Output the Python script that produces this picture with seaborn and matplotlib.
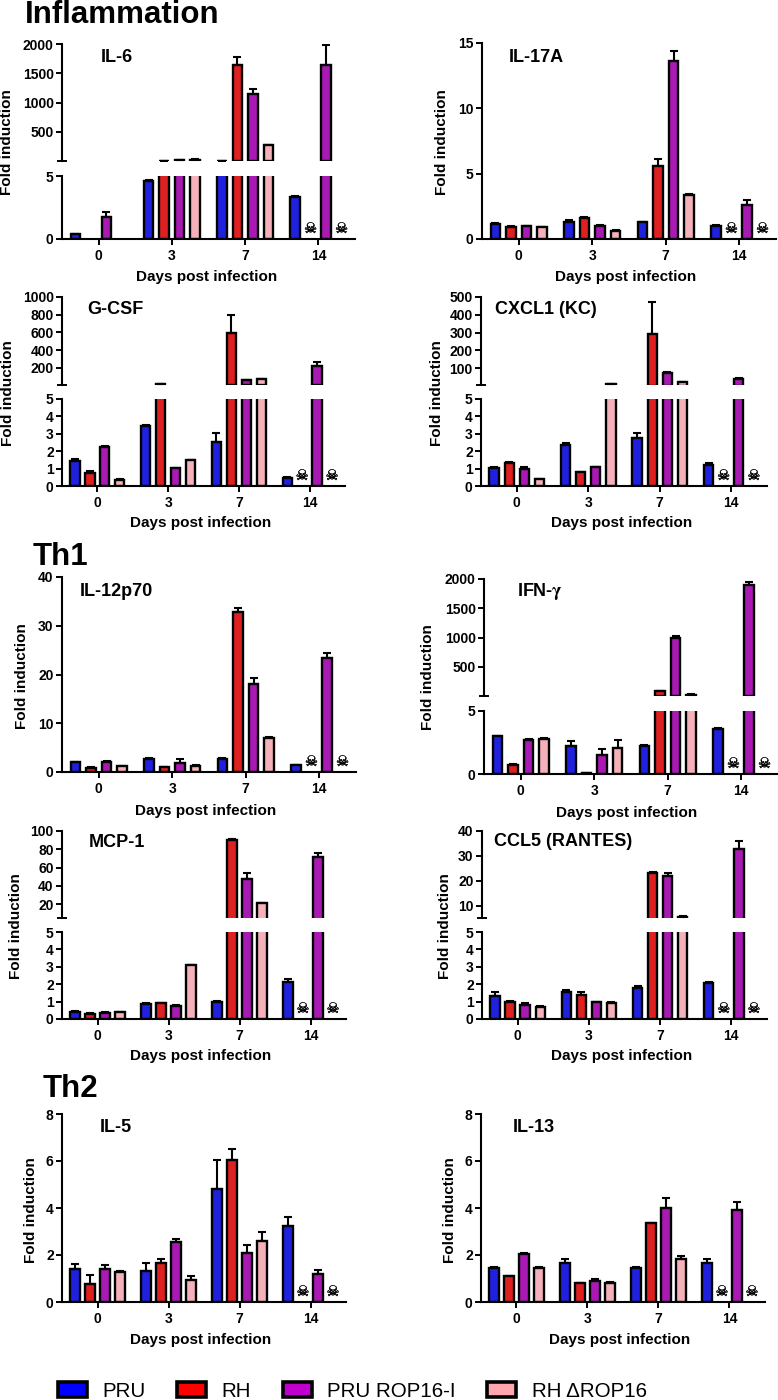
import numpy as np
import pandas as pd
import matplotlib
matplotlib.use("Agg")
import matplotlib.pyplot as plt
import matplotlib.patheffects as pe
from matplotlib.patches import Patch
import seaborn as sns

days = ["0", "3", "7", "14"]
strains = ["PRU", "RH", "PRU ROP16-I", "RH \u0394ROP16"]
colors = ["#0000FF", "#FF0000", "#BF00CC", "#FFA6B0"]

# each row is one day, columns follow strains. 0 in day 14 RH / RH dROP16 = dead mice
il6 = [[0.37, 0, 1.72, 0], [4.6, 12, 20, 30], [12, 1650, 1145, 280], [3.3, 0, 1650, 0]]
il6_err = [[0.03, 0, 0.4, 0], [0.1, 1, 1, 1], [1, 120, 80, 5], [0.12, 0, 340, 0]]

il17 = [[1.15, 0.95, 0.97, 0.9], [1.33, 1.63, 1.02, 0.64], [1.3, 5.6, 13.65, 3.35], [1.02, 0, 2.63, 0]]
il17_err = [[0.04, 0.02, 0.03, 0.02], [0.12, 0.03, 0.03, 0.02], [0.01, 0.55, 0.73, 0.1], [0.03, 0, 0.32, 0]]

gcsf = [[1.46, 0.77, 2.26, 0.36], [3.47, 12, 1.02, 1.47], [2.55, 595, 58, 73], [0.48, 0, 217, 0]]
gcsf_err = [[0.08, 0.08, 0.06, 0.03], [0.02, 2, 0.04, 0.04], [0.48, 205, 3, 4], [0.05, 0, 50, 0]]

cxcl1 = [[1.03, 1.3, 1.0, 0.38], [2.38, 0.8, 1.11, 8], [2.74, 290, 72, 20], [1.2, 0, 41, 0]]
cxcl1_err = [[0.05, 0.08, 0.08, 0.02], [0.08, 0.03, 0.01, 1], [0.3, 180, 6, 3], [0.13, 0, 2, 0]]

il12 = [[2.0, 0.9, 2.1, 1.15], [2.75, 0.95, 1.8, 1.3], [2.7, 32.8, 18.1, 7.05], [1.35, 0, 23.4, 0]]
il12_err = [[0.1, 0.05, 0.1, 0.03], [0.12, 0.05, 0.8, 0.1], [0.15, 0.9, 1.1, 0.03], [0.05, 0, 1.1, 0]]

ifng = [[3.02, 0.74, 2.7, 2.8], [2.2, 0.05, 1.5, 2.06], [2.25, 90, 995, 28], [3.6, 0, 1890, 0]]
ifng_err = [[0.02, 0.05, 0.1, 0.05], [0.4, 0.02, 0.45, 0.65], [0.03, 3, 40, 3], [0.05, 0, 55, 0]]

mcp1 = [[0.4, 0.3, 0.36, 0.38], [0.88, 0.92, 0.77, 3.08], [0.96, 90, 47.5, 21], [2.15, 0, 71.5, 0]]
mcp1_err = [[0.05, 0.03, 0.05, 0.03], [0.03, 0.02, 0.03, 0.05], [0.08, 0.8, 7, 0.8], [0.17, 0, 4, 0]]

ccl5 = [[1.32, 1.0, 0.78, 0.7], [1.53, 1.4, 0.97, 0.94], [1.77, 23.2, 21.7, 5.5], [2.05, 0, 32.7, 0]]
ccl5_err = [[0.25, 0.03, 0.13, 0.03], [0.13, 0.15, 0.02, 0.02], [0.15, 0.3, 1.5, 0.2], [0.08, 0, 3.2, 0]]

il5 = [[1.42, 0.78, 1.42, 1.29], [1.3, 1.67, 2.55, 0.92], [4.82, 6.03, 2.1, 2.6], [3.24, 0, 1.19, 0]]
il5_err = [[0.18, 0.38, 0.17, 0.01], [0.35, 0.16, 0.15, 0.2], [1.24, 0.46, 0.33, 0.4], [0.38, 0, 0.16, 0]]

il13 = [[1.45, 1.09, 2.05, 1.43], [1.65, 0.79, 0.89, 0.8], [1.43, 3.35, 3.98, 1.82], [1.68, 0, 3.9, 0]]
il13_err = [[0.05, 0.01, 0.03, 0.07], [0.19, 0.01, 0.07, 0.04], [0.05, 0.01, 0.44, 0.12], [0.14, 0, 0.37, 0]]

W, H = 778, 1400

# layout is in image pixels: left, right, base of axis, y of top tick
panels = [
    dict(name="IL-6", vals=il6, errs=il6_err, box=(62, 355, 239, 44), brk=(176, 161), upper=[500, 1000, 1500, 2000], ymax=2000,
         title_xy=(101, 57), xlab=(207, 277), ylab=(7, 142)),
    dict(name="IL-17A", vals=il17, errs=il17_err, box=(482, 776, 239, 43), yticks=[0, 5, 10, 15], ymax=15,
         title_xy=(509, 57), xlab=(626, 277), ylab=(442, 142)),
    dict(name="G-CSF", vals=gcsf, errs=gcsf_err, box=(62, 345, 486, 297), brk=(399, 385), upper=[200, 400, 600, 800, 1000], ymax=1000,
         lower=[0, 1, 2, 3, 4, 5], title_xy=(87, 309), xlab=(201, 523), ylab=(8, 393)),
    dict(name="CXCL1 (KC)", vals=cxcl1, errs=cxcl1_err, box=(481, 767, 486, 297), brk=(399, 385), upper=[100, 200, 300, 400, 500], ymax=500,
         lower=[0, 1, 2, 3, 4, 5], title_xy=(495, 310), xlab=(622, 523), ylab=(437, 393)),
    dict(name="IL-12p70", vals=il12, errs=il12_err, box=(62, 356, 772, 577), yticks=[0, 10, 20, 30, 40], ymax=40,
         title_xy=(80, 591), xlab=(206, 811), ylab=(22, 676)),
    dict(name=r"IFN-$\mathrm{\gamma}$", vals=ifng, errs=ifng_err, box=(484, 778, 774, 579), brk=(711, 696), upper=[500, 1000, 1500, 2000], ymax=2000,
         title_xy=(517, 592), xlab=(627, 813), ylab=(428, 677)),
    dict(name="MCP-1", vals=mcp1, errs=mcp1_err, box=(62, 346, 1019, 831), brk=(932, 918), upper=[20, 40, 60, 80, 100], ymax=100,
         lower=[0, 1, 2, 3, 4, 5], title_xy=(89, 843), xlab=(201, 1056), ylab=(16, 926)),
    dict(name="CCL5 (RANTES)", vals=ccl5, errs=ccl5_err, box=(482, 767, 1019, 831), brk=(932, 918), upper=[10, 20, 30, 40], ymax=40,
         lower=[0, 1, 2, 3, 4, 5], title_xy=(494, 841), xlab=(622, 1056), ylab=(445, 926)),
    dict(name="IL-5", vals=il5, errs=il5_err, box=(62, 346, 1302, 1114), yticks=[0, 2, 4, 6, 8], ymax=8,
         title_xy=(100, 1127), xlab=(201, 1340), ylab=(31, 1210)),
    dict(name="IL-13", vals=il13, errs=il13_err, box=(481, 765, 1302, 1114), yticks=[0, 2, 4, 6, 8], ymax=8,
         title_xy=(513, 1127), xlab=(620, 1340), ylab=(450, 1210)),
]

sns.set_theme(style="ticks")
plt.rcParams["font.family"] = ["Liberation Sans", "DejaVu Sans"]
plt.rcParams["font.weight"] = "bold"
plt.rcParams["mathtext.fontset"] = "stix"
plt.rcParams["text.color"] = "black"
plt.rcParams["axes.labelcolor"] = "black"


def px_axes(fig, left, right, bottom, top):
    return fig.add_axes([left / W, 1 - bottom / H, (right - left) / W, (bottom - top) / H])


def draw_bars(ax, vals, errs, floor=0):
    df = pd.DataFrame({
        "day": np.repeat(days, len(strains)),
        "strain": strains * len(days),
        "value": np.ravel(vals),
    })
    sns.barplot(data=df, x="day", y="value", hue="strain", order=days, hue_order=strains,
                palette=colors, width=0.846, gap=0.38, edgecolor="black", linewidth=1.7,
                errorbar=None, legend=False, ax=ax)
    bars = list(ax.containers)
    for s, container in enumerate(bars):
        for d, patch in enumerate(container.patches):
            # bars that stop below this axes would leave their outline on its edge
            if patch.get_height() <= floor:
                patch.set_visible(False)
                continue
            err = errs[d][s]
            ax.errorbar(patch.get_x() + patch.get_width() / 2, patch.get_height(), yerr=[[0], [err]],
                        color="black", elinewidth=1.5, capsize=2.8, capthick=1.5, zorder=0.5)
    ax.set_xlim(-0.5, 3.5)
    ax.set_xlabel("")
    ax.set_ylabel("")
    ax.tick_params(axis="y", length=4.5, width=1.4, pad=1.5, labelsize=10, color="black", labelcolor="black")
    ax.patch.set_alpha(0)
    for side in ["left", "bottom"]:
        ax.spines[side].set_linewidth(1.5)
        ax.spines[side].set_color("black")
    sns.despine(ax=ax)
    return bars


def draw_panel(fig, p):
    left, right, base, top = p["box"]
    if "brk" in p:
        y5, y_up = p["brk"]
        ax = px_axes(fig, left, right, base, y5)
        upper = px_axes(fig, left, right, y_up, top)
        bars = draw_bars(ax, p["vals"], p["errs"])
        draw_bars(upper, p["vals"], p["errs"], floor=5)
        ax.set_ylim(0, 5)
        ax.set_yticks(p.get("lower", [0, 5]))
        ax.set_yticks([5], minor=True)
        ax.tick_params(axis="y", which="minor", direction="in", length=4.5, width=1.4, color="black")
        upper.set_ylim(5, p["ymax"])
        upper.set_yticks(p["upper"])
        upper.set_yticks([5], minor=True)
        upper.tick_params(axis="y", which="minor", direction="inout", length=7, width=1.4, color="black")
        upper.spines["bottom"].set_visible(False)
        upper.tick_params(axis="x", bottom=False, labelbottom=False)
    else:
        ax = px_axes(fig, left, right, base, top)
        bars = draw_bars(ax, p["vals"], p["errs"])
        ax.set_ylim(0, p["ymax"])
        ax.set_yticks(p["yticks"])

    ax.tick_params(axis="x", length=4, width=1.4, pad=3, labelsize=10, color="black", labelcolor="black")

    ax.set_xlabel("Days post infection", fontsize=11, fontweight="bold", va="center")
    ax.xaxis.set_label_coords(p["xlab"][0] / W, 1 - p["xlab"][1] / H, transform=fig.transFigure)
    ax.set_ylabel("Fold induction", fontsize=11, fontweight="bold", va="center")
    ax.yaxis.set_label_coords(p["ylab"][0] / W, 1 - p["ylab"][1] / H, transform=fig.transFigure)

    fig.text(p["title_xy"][0] / W, 1 - p["title_xy"][1] / H, p["name"], fontsize=13, fontweight="bold", ha="left", va="center")

    # skull marks where the group had died by day 14
    for s in [1, 3]:
        patch = bars[s].patches[3]
        ax.annotate("\u2620", xy=(patch.get_x() + patch.get_width() / 2, 0), xytext=(0, 7.5), textcoords="offset points",
                    ha="center", va="center", fontsize=10.5, fontweight="normal", family="DejaVu Sans", color="black",
                    path_effects=[pe.withStroke(linewidth=0.2, foreground="black")])


fig = plt.figure(figsize=(W / 100, H / 100), dpi=100)

for p in panels:
    draw_panel(fig, p)

for label, x, y in [("Inflammation", 25, 23), ("Th1", 33, 565), ("Th2", 43, 1097)]:
    fig.text(x / W, 1 - y / H, label, fontsize=22.5, fontweight="bold", ha="left", va="baseline")

handles = [Patch(facecolor=c, edgecolor="black", linewidth=2.6, label=s) for c, s in zip(colors, strains)]
fig.legend(handles=handles, loc="lower left", bbox_to_anchor=(58 / W, 1 - 1401 / H), ncols=4, frameon=False,
           prop={"family": "Liberation Sans", "weight": "normal", "size": 14.8},
           handlelength=1.4, handleheight=0.75, handletextpad=0.75, columnspacing=1.55, borderpad=0, borderaxespad=0)

fig.savefig("out.png", dpi=100)
